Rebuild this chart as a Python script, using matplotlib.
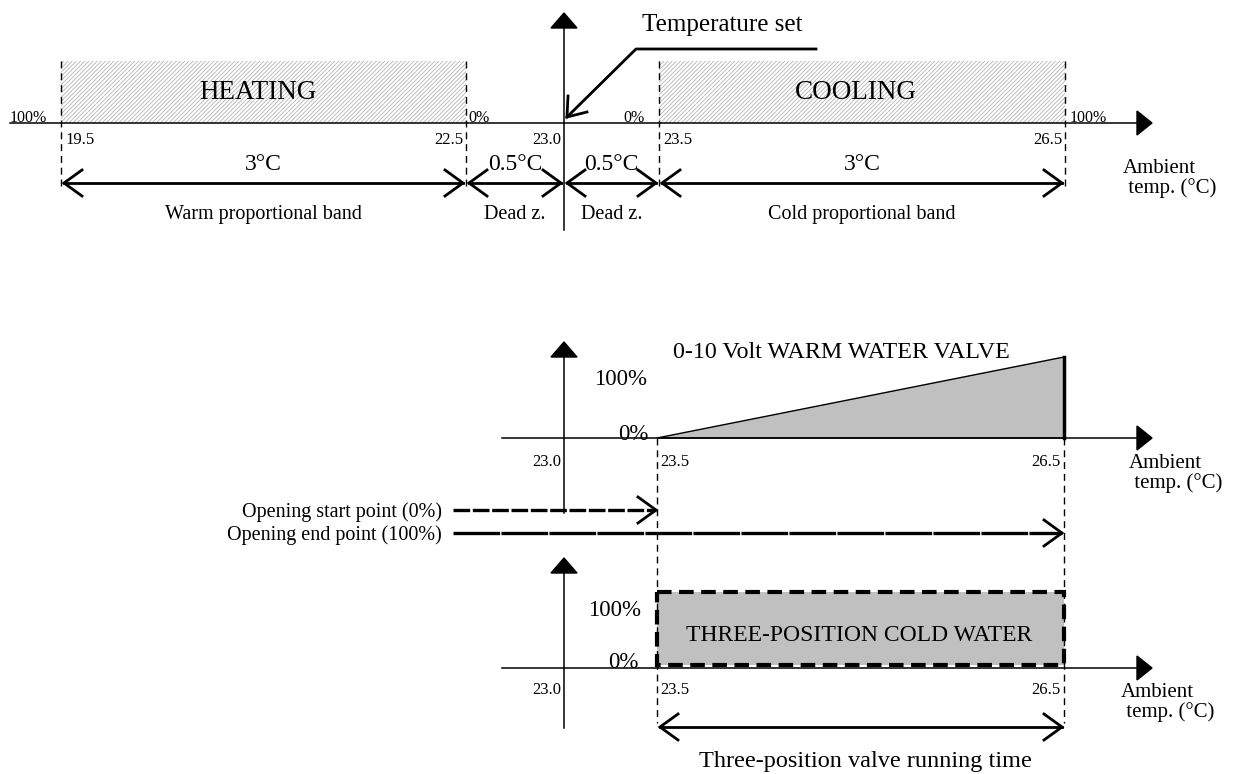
import numpy as np
import matplotlib.pyplot as plt
from matplotlib.patches import Polygon, Rectangle

plt.rcParams['font.family'] = ['Liberation Serif', 'DejaVu Serif']
plt.rcParams['hatch.linewidth'] = 0.6

# chart content
temps = [19.5, 22.5, 23.0, 23.5, 26.5]
temp_labels = ['19.5', '22.5', '23.0', '23.5', '26.5']
band_sizes = ['3°C', '0.5°C', '0.5°C', '3°C']
band_names = ['Warm proportional band', 'Dead z.', 'Dead z.', 'Cold proportional band']
zone_names = ['HEATING', 'COOLING']
zone_pct = [('100%', '0%'), ('0%', '100%')]
axis_label = 'Ambient\n temp. (°C)'
valve_names = ['0-10 Volt WARM WATER VALVE', 'THREE-POSITION COLD WATER']
valve_pct = ['0%', '100%']
opening_names = ['Opening start point (0%)', 'Opening end point (100%)']
opening_temps = [23.5, 26.5]
running_name = 'Three-position valve running time'
set_name = 'Temperature set'

# layout: temperature -> pixel column (diagram is not to scale)
tx = [61, 466, 564, 659, 1065]
def X(t):
    return np.interp(t, temps, tx)

fig = plt.figure(figsize=(12.4, 7.74), dpi=100)
ax = fig.add_axes([0, 0, 1, 1])
ax.set_xlim(0, 1240)
ax.set_ylim(774, 0)
ax.axis('off')

K = 'black'
def T(x, y, s, fs, ha='center', **kw):
    # small downward nudge so glyphs sit like the original
    ax.text(x, y + 2.5, s, fontsize=fs, ha=ha, va='center', **kw)

def h_axis(y, x0, x1):
    ax.plot([x0, x1 - 10], [y, y], color=K, lw=1.1)
    ax.add_patch(Polygon([(x1 - 15, y - 12), (x1, y), (x1 - 15, y + 12)], closed=True, color=K))

def v_axis(x, y0, y1):
    ax.plot([x, x], [y0 + 10, y1], color=K, lw=1.1)
    ax.add_patch(Polygon([(x - 13, y0 + 15), (x, y0), (x + 13, y0 + 15)], closed=True, color=K))

def head(x, y, d):
    ax.plot([x + d * 18, x, x + d * 18], [y - 13, y, y + 13], color=K, lw=2, solid_joinstyle='miter')

def dim(x0, x1, y):
    ax.plot([x0, x1], [y, y], color=K, lw=2)
    head(x0, y, 1)
    head(x1, y, -1)

def vdash(x, y0, y1):
    ax.plot([x, x], [y0, y1], color=K, lw=1, dashes=(5, 3.5))

# ---- top: proportional bands ----
h_axis(123, 10, 1152)
v_axis(X(23.0), 13, 230)
for i, (a, b) in enumerate([(19.5, 22.5), (23.5, 26.5)]):
    ax.add_patch(Rectangle((X(a), 61), X(b) - X(a), 62, facecolor='white',
                           edgecolor='#b4b4b4', lw=0, hatch='////////'))
    T((X(a) + X(b)) / 2 - 6, 90, zone_names[i], 19.5)
    vdash(X(a), 61, 186)
    vdash(X(b), 61, 186)
T(28, 116, zone_pct[0][0], 11.5)
T(479, 116, zone_pct[0][1], 11.5)
T(634, 116, zone_pct[1][0], 11.5)
T(1088, 116, zone_pct[1][1], 11.5)

for t, lab in zip(temps, temp_labels):
    left = t in (19.5, 23.5)
    T(X(t) + (4 if left else -3), 137, lab, 12, ha='left' if left else 'right')

edges = [X(t) for t in temps]
for i in range(4):
    x0, x1 = edges[i] + 3, edges[i + 1] - 3
    dim(x0, x1, 183)
    xc = (edges[i] + edges[i + 1]) / 2
    T(xc, 162, band_sizes[i], 17)
    T(xc, 212, band_names[i], 14.5)
T(1123, 176, axis_label, 15, ha='left', linespacing=1.05)

# temperature set leader
T(722, 23, set_name, 18)
ax.plot([816, 636, 567], [49, 49, 117], color=K, lw=2)
ax.plot([568, 567, 587], [96, 117, 112], color=K, lw=2, solid_joinstyle='miter')

# ---- middle: 0-10 V valve ----
x_a, x_b = X(opening_temps[0]) - 2, X(opening_temps[1]) - 1
h_axis(438, 502, 1152)
v_axis(X(23.0), 342, 513)
ax.add_patch(Polygon([(x_a, 438), (x_b, 357), (x_b, 438)], closed=True,
                     facecolor='#c0c0c0', edgecolor=K, lw=1))
ax.plot([x_b, x_b], [357, 438], color=K, lw=2.5)
T(673, 350, valve_names[0], 17.3, ha='left')
T(621, 377, valve_pct[1], 16.5)
T(633, 432, valve_pct[0], 16.5)
vdash(x_a, 438, 723)
vdash(x_b, 438, 723)
for yy in (459, 688):
    T(561, yy, temp_labels[2], 12, ha='right')
    T(x_a + 3, yy, temp_labels[3], 12, ha='left')
    T(x_b - 4, yy, temp_labels[4], 12, ha='right')
T(1129, 471, axis_label, 15, ha='left', linespacing=1.05)

# opening points
for name, t, yy, ds in zip(opening_names, opening_temps, [510, 533], [(5, 0.8), (14, 0.4)]):
    T(442, yy, name, 14.5, ha='right')
    xe = X(t) - 3
    ax.plot([453, xe], [yy, yy], color=K, lw=2.4, dashes=ds)
    head(xe, yy, -1)

# ---- bottom: three-position valve ----
h_axis(668, 502, 1152)
v_axis(X(23.0), 558, 728)
ax.add_patch(Rectangle((x_a, 592), x_b - x_a, 73, facecolor='#c0c0c0',
                       edgecolor=K, lw=3, linestyle=(0, (3.5, 1.8))))
T(859, 633, valve_names[1], 17)
T(615, 608, valve_pct[1], 16.5)
T(623, 660, valve_pct[0], 16.5)
T(1121, 700, axis_label, 15, ha='left', linespacing=1.05)
dim(x_a + 3, x_b - 2, 727)
T(865, 759, running_name, 17.5)

fig.savefig('out.png', dpi=100)
